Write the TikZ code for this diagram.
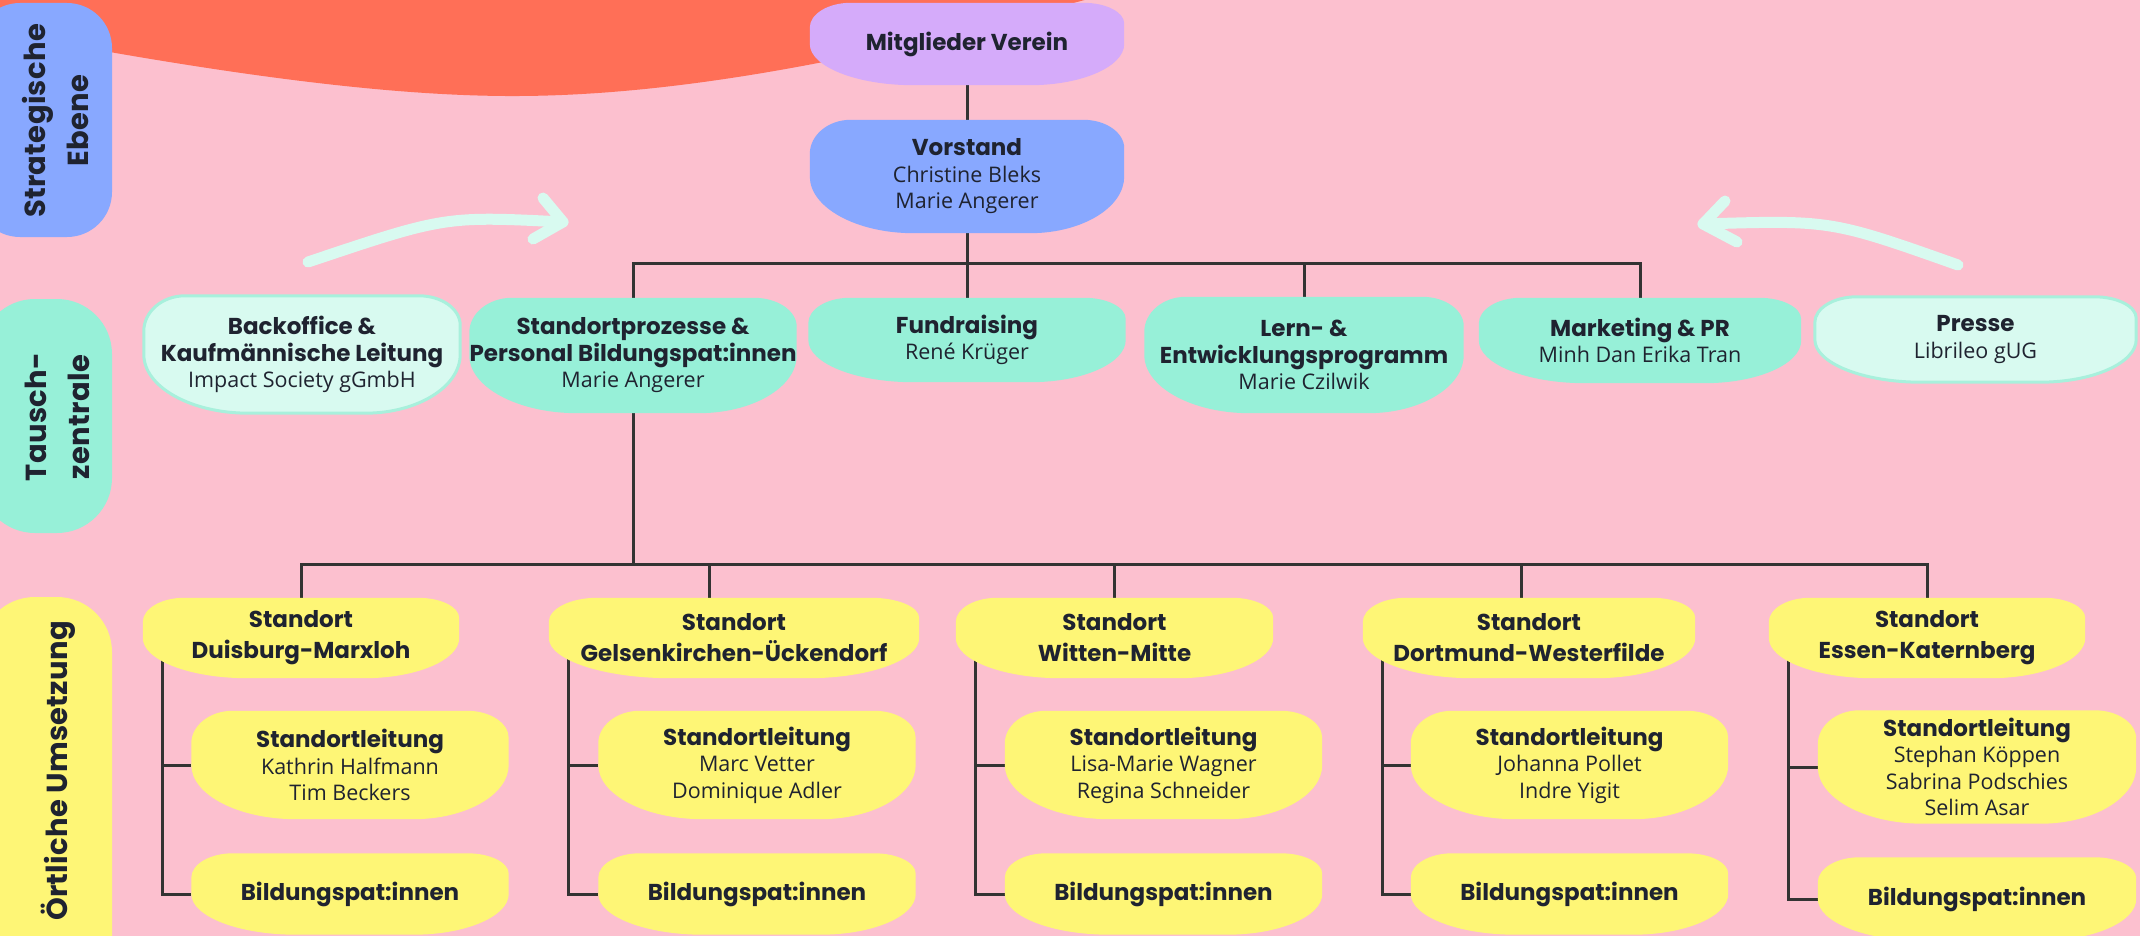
\documentclass[tikz,border=0pt]{standalone}
\usepackage{fontspec}
\setmainfont{Open Sans}
\newfontfamily\poppins{Poppins}
\newfontfamily\poppinsside{Poppins}[LetterSpace=1]
\usetikzlibrary{calc}
\definecolor{bgpink}{HTML}{FCC0CF}
\definecolor{orangeblob}{HTML}{FF6F57}
\definecolor{lila}{HTML}{D5ABFA}
\definecolor{blau}{HTML}{88A8FF}
\definecolor{mint}{HTML}{97F0D8}
\definecolor{hellmint}{HTML}{D8FAF0}
\definecolor{mintrand}{HTML}{A8F0DC}
\definecolor{gelb}{HTML}{FEF676}
\definecolor{linie}{HTML}{333333}
\definecolor{schrift}{HTML}{1F2330}
\pgfdeclarelayer{back}\pgfdeclarelayer{lines}\pgfdeclarelayer{mid}
\pgfsetlayers{back,lines,mid,main}
\newcommand\tit[1]{{\poppins\bfseries\fontsize{23}{26.5}\selectfont #1}}
\newcommand\blob[2]{%
  \path[#2] let \p1=(#1.north west), \p2=(#1.south east), \n1={\y1-\y2}, \n2={\x2-\x1} in
  (\x1,{\y1-0.3*\n1}) .. controls (\x1,{\y1-0.135*\n1}) and ({\x1+0.0585*\n2},\y1) .. ({\x1+0.13*\n2},\y1)
  -- ({\x2-0.13*\n2},\y1) .. controls ({\x2-0.0585*\n2},\y1) and (\x2,{\y1-0.1125*\n1}) .. (\x2,{\y1-0.25*\n1})
  -- (\x2,{\y2+0.5*\n1}) .. controls (\x2,{\y2+0.225*\n1}) and ({\x2-0.135*\n2},\y2) .. ({\x2-0.3*\n2},\y2)
  -- ({\x1+0.33*\n2},\y2) .. controls ({\x1+0.1485*\n2},\y2) and (\x1,{\y2+0.225*\n1}) .. (\x1,{\y2+0.5*\n1})
  -- cycle;}
\tikzset{
  box/.style={shape=rectangle, inner sep=0pt, align=center, text=schrift,
    font=\fontsize{21.5}{26.5}\selectfont},
  sbox/.style={box, font=\fontsize{21.5}{31}\selectfont},
  conn/.style={draw=linie, line width=3pt},
  sidelabel/.style={rotate=90, align=center, text=schrift, inner sep=0pt,
    font=\poppinsside\bfseries\fontsize{29}{43}\selectfont},
  pfeil/.style={draw=hellmint, line width=11pt, line cap=round, line join=round}
}
\begin{document}
\begin{tikzpicture}[x=1pt,y=-1pt]
\useasboundingbox (0,0) rectangle (2140,936);
\begin{pgfonlayer}{back}
  \fill[bgpink] (0,0) rectangle (2140,936);
  \fill[orangeblob] (0,-2) -- (1092,-2) .. controls (900,50) and (700,95) .. (520,96)
     .. controls (380,97) and (200,70) .. (0,32) -- cycle;
  % side pills
  \fill[blau, rounded corners=45pt] (-25,3) rectangle (112,237);
  \fill[mint, rounded corners=55pt] (-20,299) rectangle (112,533);
  \fill[gelb, rounded corners=55pt] (-20,597) rectangle (112,1000);
  % arrows
  \coordinate (aLs) at (308,262); \coordinate (aLe) at (563,222);
  \draw[pfeil] (aLs) .. controls (445,216) .. (aLe);
  \draw[pfeil] (543,198) -- (aLe) -- (533,239);
  \coordinate (aRs) at (1958,265); \coordinate (aRe) at (1703,224);
  \draw[pfeil] (aRs) .. controls (1831,220) .. (aRe);
  \draw[pfeil] (1725,201) -- (aRe) -- (1737,242);
\end{pgfonlayer}

% side labels
\node[sidelabel] (lab1) at (56,121) {Strategische\\Ebene};
\node[sidelabel] (lab2) at (57,417) {Tausch-\\zentrale};
\node[sidelabel] (lab3) at (58,771) {Örtliche Umsetzung};

% top
\node[box, minimum width=314pt, minimum height=82pt] (mv) at (967,44) {\tit{Mitglieder Verein}};
\node[box, minimum width=314pt, minimum height=113pt] (vs) at (967,176.5) {\tit{Vorstand}\\Christine Bleks\\Marie Angerer};

% second row
\node[box, minimum width=316pt, minimum height=117pt] (bo) at (302,354.5) {\tit{Backoffice \&}\\\tit{Kaufmännische Leitung}\\Impact Society gGmbH};
\node[box, minimum width=316pt, minimum height=115pt] (sp) at (633,355.5) {\tit{Standortprozesse \&}\\\tit{Personal Bildungspat:innen}\\Marie Angerer};
\node[box, minimum width=317pt, minimum height=84pt] (fr) at (967,340) {\tit{Fundraising}\\René Krüger};
\node[box, minimum width=319pt, minimum height=116pt] (le) at (1304,355) {\tit{Lern- \&}\\\tit{Entwicklungsprogramm}\\Marie Czilwik};
\node[box, minimum width=322pt, minimum height=85pt] (mk) at (1640,340.5) {\tit{Marketing \& PR}\\Minh Dan Erika Tran};
\node[box, minimum width=321pt, minimum height=85pt] (pr) at (1975.5,339.5) {\tit{Presse}\\Librileo gUG};

% Standorte
\node[sbox, minimum width=316pt, minimum height=80pt] (sd1) at (301,638) {\tit{Standort}\\\tit{Duisburg-Marxloh}};
\node[sbox, minimum width=370pt, minimum height=80pt] (sd2) at (734,638) {\tit{Standort}\\\tit{Gelsenkirchen-Ückendorf}};
\node[sbox, minimum width=317pt, minimum height=80pt] (sd3) at (1114.5,638) {\tit{Standort}\\\tit{Witten-Mitte}};
\node[sbox, minimum width=332pt, minimum height=80pt] (sd4) at (1529,638) {\tit{Standort}\\\tit{Dortmund-Westerfilde}};
\node[sbox, minimum width=316pt, minimum height=80pt] (sd5) at (1927,638) {\tit{Standort}\\\tit{Essen-Katernberg}};

% Standortleitung
\node[box, minimum width=317pt, minimum height=108pt] (sl1) at (350,765) {\tit{Standortleitung}\\Kathrin Halfmann\\Tim Beckers};
\node[box, minimum width=317pt, minimum height=108pt] (sl2) at (757,765) {\tit{Standortleitung}\\Marc Vetter\\Dominique Adler};
\node[box, minimum width=317pt, minimum height=108pt] (sl3) at (1163.5,765) {\tit{Standortleitung}\\Lisa-Marie Wagner\\Regina Schneider};
\node[box, minimum width=317pt, minimum height=108pt] (sl4) at (1569.5,765) {\tit{Standortleitung}\\Johanna Pollet\\Indre Yigit};
\node[box, minimum width=318pt, minimum height=113pt] (sl5) at (1977,767) {\tit{Standortleitung}\\Stephan Köppen\\Sabrina Podschies\\Selim Asar};

% Bildungspat:innen
\node[box, minimum width=317pt, minimum height=81pt] (sb1) at (350,894) {\tit{Bildungspat:innen}};
\node[box, minimum width=317pt, minimum height=81pt] (sb2) at (757,894) {\tit{Bildungspat:innen}};
\node[box, minimum width=317pt, minimum height=81pt] (sb3) at (1163.5,894) {\tit{Bildungspat:innen}};
\node[box, minimum width=317pt, minimum height=81pt] (sb4) at (1569.5,894) {\tit{Bildungspat:innen}};
\node[box, minimum width=318pt, minimum height=83pt] (sb5) at (1977,899) {\tit{Bildungspat:innen}};

\begin{pgfonlayer}{mid}
  \blob{mv}{fill=lila}
  \blob{vs}{fill=blau}
  \blob{bo}{fill=hellmint, draw=mintrand, line width=3pt}
  \blob{sp}{fill=mint}
  \blob{fr}{fill=mint}
  \blob{le}{fill=mint}
  \blob{mk}{fill=mint}
  \blob{pr}{fill=hellmint, draw=mintrand, line width=3pt}
  \foreach \i in {1,...,5}{
    \blob{sd\i}{fill=gelb}
    \blob{sl\i}{fill=gelb}
    \blob{sb\i}{fill=gelb}
  }
\end{pgfonlayer}

\begin{pgfonlayer}{lines}
  \coordinate (bar1) at (967,263);
  \coordinate (bar2) at (967,564);
  \draw[conn] (mv.south) -- (vs.north);
  \draw[conn] (vs.south) -- (fr.north);
  \draw[conn] (sp.north) -- (sp.north |- bar1) -- (mk.north |- bar1) -- (mk.north);
  \draw[conn] (le.north) -- (le.north |- bar1);
  \draw[conn] (sp.south) -- (sp.south |- bar2);
  \draw[conn] (sd1.north) -- (sd1.north |- bar2) -- (sd5.north |- bar2) -- (sd5.north);
  \coordinate (j2) at (709,564);
  \coordinate (j3) at (1114,564);
  \coordinate (j4) at (1521,564);
  \draw[conn] (j2) -- (j2 |- sd2.north);
  \draw[conn] (j3) -- (j3 |- sd3.north);
  \draw[conn] (j4) -- (j4 |- sd4.north);
  \foreach \i in {1,...,5}{
    \draw[conn] ([xshift=20pt,yshift=30pt]sd\i.south west) |- (sl\i.west);
    \draw[conn] ([xshift=20pt,yshift=30pt]sd\i.south west) |- (sb\i.west);
  }
\end{pgfonlayer}
\end{tikzpicture}
\end{document}
